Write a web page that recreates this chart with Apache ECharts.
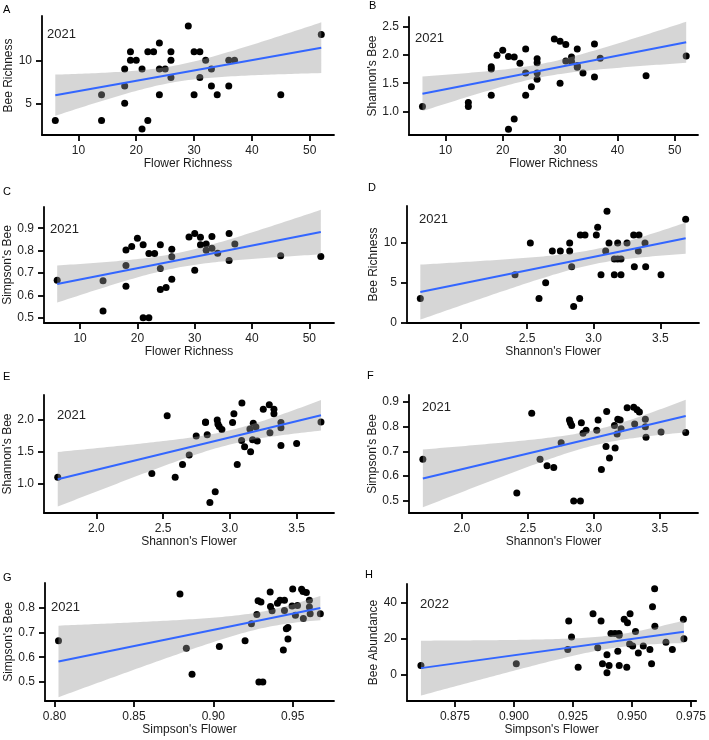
<!DOCTYPE html>
<html>
<head>
<meta charset="utf-8">
<script src="https://cdn.jsdelivr.net/npm/echarts@6/dist/echarts.min.js"></script>
<style>
  html, body { margin: 0; padding: 0; background: #fff; }
  #chart { width: 709px; height: 740px; }
</style>
</head>
<body>
<div id="chart"></div>
<script>
// values, one pair of arrays per panel
const aX = [6,14,14,18,18,18,19,19,20,21,21,22,22,23,24,24,24,25,26,26,26,29,30,30,31,31,32,33,33,34,36,36,37,45,52]
const aY = [3,6,3,9,7,5,11,10,10,9,2,11,3,11,12,9,6,9,11,10,8,14,11,6,11,8,10,9,7,6,10,7,10,6,13]

const bX = [6,14,14,18,18,18,19,20,21,21,22,22,23,24,24,24,25,26,26,26,26,29,30,30,31,31,32,32,33,33,33,34,36,36,37,45,52]
const bY = [1.09,1.16,1.09,1.79,1.75,1.29,1.99,2.08,1.97,0.69,0.87,1.96,1.85,2.10,1.68,1.29,1.44,1.93,1.86,1.68,1.57,2.28,2.24,1.50,2.18,1.89,1.96,1.88,2.10,1.81,1.78,1.68,2.19,1.61,1.94,1.63,1.98]

const cX = [6,14,14,18,18,18,19,20,21,21,22,22,23,24,24,24,25,26,26,26,29,30,30,31,31,32,32,33,33,34,36,36,37,45,52]
const cY = [0.667,0.665,0.53,0.803,0.733,0.64,0.818,0.855,0.826,0.5,0.5,0.787,0.787,0.826,0.72,0.626,0.635,0.806,0.772,0.672,0.861,0.876,0.712,0.86,0.826,0.829,0.802,0.863,0.811,0.788,0.876,0.756,0.829,0.777,0.774]

const dX = [1.70,2.41,2.525,2.59,2.64,2.69,2.75,2.82,2.82,2.835,2.85,2.895,2.90,2.935,3.02,3.03,3.055,3.10,3.09,3.115,3.155,3.155,3.18,3.18,3.205,3.205,3.25,3.30,3.34,3.305,3.335,3.385,3.39,3.505,3.69]
const dY = [3,6,10,3,5,9,9,10,9,7,2,3,11,11,11,12,6,14,9,10,8,6,10,8,8,6,10,11,11,7,9,10,7,6,13]

const eX = [1.71,2.415,2.53,2.59,2.645,2.695,2.7475,2.8175,2.8175,2.83,2.85,2.89,2.905,2.91,2.92,2.94,3.02,3.03,3.055,3.09,3.0875,3.11,3.155,3.15,3.175,3.17,3.195,3.205,3.25,3.295,3.30,3.33,3.33,3.3825,3.3825,3.3825,3.50,3.6825]
const eY = [1.10,1.16,2.07,1.10,1.30,1.45,1.75,1.97,1.96,1.77,0.70,0.87,2.00,1.94,1.90,1.85,1.96,2.10,1.30,2.27,1.68,1.58,1.50,1.86,1.95,1.69,1.89,1.67,2.17,2.24,1.80,2.17,2.10,1.96,1.88,1.60,1.63,1.97]

const fX = [1.705,2.417,2.53,2.593,2.646,2.697,2.753,2.816,2.823,2.833,2.848,2.899,2.906,2.919,2.942,3.023,3.033,3.058,3.098,3.093,3.119,3.157,3.162,3.177,3.182,3.20,3.207,3.253,3.303,3.31,3.328,3.346,3.391,3.391,3.396,3.51,3.697]
const fY = [0.668,0.532,0.854,0.668,0.642,0.635,0.735,0.827,0.816,0.805,0.50,0.50,0.816,0.773,0.786,0.786,0.827,0.627,0.861,0.72,0.673,0.805,0.714,0.77,0.83,0.827,0.792,0.876,0.878,0.811,0.868,0.859,0.83,0.80,0.757,0.778,0.776]

const gX = [0.8025,0.879,0.883,0.8866,0.9038,0.920,0.924,0.9274,0.9282,0.930,0.9287,0.9312,0.9358,0.936,0.937,0.9404,0.942,0.9448,0.9448,0.9441,0.946,0.947,0.947,0.950,0.9496,0.9517,0.953,0.9556,0.9565,0.9586,0.9567,0.9605,0.9605,0.961,0.9674]
const gY = [0.667,0.856,0.636,0.531,0.643,0.667,0.735,0.773,0.828,0.823,0.50,0.50,0.864,0.805,0.788,0.818,0.83,0.83,0.789,0.629,0.715,0.72,0.674,0.876,0.807,0.770,0.809,0.875,0.866,0.862,0.757,0.83,0.803,0.776,0.776]

const hX = [0.8606,0.901,0.9232,0.9228,0.9244,0.9272,0.9335,0.9355,0.9369,0.9375,0.9394,0.9394,0.9403,0.9411,0.9428,0.944,0.9445,0.9446,0.9446,0.9467,0.9478,0.9481,0.9492,0.949,0.9503,0.9515,0.9527,0.9548,0.9576,0.9587,0.9583,0.9596,0.9597,0.9644,0.9671,0.9718,0.972]
const hY = [5,6,30,14,21,4,34,15,30,6,11,1,5,23,23,13,23,22,5,31,4,29,34,17,16,24,12,16,14,38,6,48,27,18,14,31,20]

// tick labels
const richTicks = [10, 20, 30, 40, 50]
const shanFlowerTicks = [2.0, 2.5, 3.0, 3.5]
const simpFlowerTicksG = [0.80, 0.85, 0.90, 0.95]
const simpFlowerTicksH = [0.875, 0.900, 0.925, 0.950, 0.975]
const beeRichTicksA = [5, 10]
const beeRichTicksD = [0, 5, 10]
const shanBeeTicksB = [1.0, 1.5, 2.0, 2.5]
const shanBeeTicksE = [1.0, 1.5, 2.0]
const simpBeeTicks = [0.5, 0.6, 0.7, 0.8, 0.9]
const simpBeeTicksG = [0.5, 0.6, 0.7, 0.8]
const abundTicks = [0, 20, 40]

const FONT = '"Liberation Sans", Arial, sans-serif'

// box = [left, top, right, bottom] of the plot area in px
const panels = [
  { tag: 'A', x: aX, y: aY, box: [42, 16, 334, 135], xr: [3.7, 54.2], yr: [1.31, 15.15], xt: richTicks, yt: beeRichTicksA, xd: 0, yd: 0,
    xName: 'Flower Richness', yName: 'Bee Richness', year: '2021', yearAt: [47, 34], tagAt: [3, 10] },
  { tag: 'B', x: bX, y: bY, box: [409, 17, 698, 135], xr: [3.65, 54.06], yr: [0.589, 2.665], xt: richTicks, yt: shanBeeTicksB, xd: 0, yd: 1,
    xName: 'Flower Richness', yName: "Shannon's Bee", year: '2021', yearAt: [415, 38], tagAt: [369, 6] },
  { tag: 'C', x: cX, y: cY, box: [44, 207, 334, 323], xr: [3.7, 54.3], yr: [0.476, 0.995], xt: richTicks, yt: simpBeeTicks, xd: 0, yd: 1,
    xName: 'Flower Richness', yName: "Simpson's Bee", year: '2021', yearAt: [50, 229], tagAt: [3, 192] },
  { tag: 'D', x: dX, y: dY, box: [407, 206, 699, 323], xr: [1.6, 3.79], yr: [-0.07, 14.66], xt: shanFlowerTicks, yt: beeRichTicksD, xd: 1, yd: 0,
    xName: "Shannon's Flower", yName: 'Bee Richness', year: '2021', yearAt: [419, 219], tagAt: [368, 188] },
  { tag: 'E', x: eX, y: eY, box: [44, 395, 334, 513], xr: [1.607, 3.78], yr: [0.536, 2.395], xt: shanFlowerTicks, yt: shanBeeTicksE, xd: 1, yd: 1,
    xName: "Shannon's Flower", yName: "Shannon's Bee", year: '2021', yearAt: [57, 415], tagAt: [3, 377] },
  { tag: 'F', x: fX, y: fY, box: [409, 395, 698, 513], xr: [1.6, 3.79], yr: [0.451, 0.928], xt: shanFlowerTicks, yt: simpBeeTicks, xd: 1, yd: 1,
    xName: "Shannon's Flower", yName: "Simpson's Bee", year: '2021', yearAt: [422, 407], tagAt: [367, 376] },
  { tag: 'G', x: gX, y: gY, box: [45, 583, 334, 701], xr: [0.794, 0.976], yr: [0.423, 0.9], xt: simpFlowerTicksG, yt: simpBeeTicksG, xd: 2, yd: 1,
    xName: "Simpson's Flower", yName: "Simpson's Bee", year: '2021', yearAt: [51, 607], tagAt: [3, 578] },
  { tag: 'H', x: hX, y: hY, box: [407, 584, 698, 701], xr: [0.8547, 0.9772], yr: [-14.9, 50.7], xt: simpFlowerTicksH, yt: abundTicks, xd: 3, yd: 0,
    xName: "Simpson's Flower", yName: 'Bee Abundance', year: '2022', yearAt: [420, 604], tagAt: [365, 575] }
]

// ordinary least squares with a 95% confidence band, like geom_smooth(method = 'lm')
function lmFit(xs, ys) {
  const n = xs.length
  const xbar = xs.reduce((s, v) => s + v, 0) / n
  const ybar = ys.reduce((s, v) => s + v, 0) / n
  let sxx = 0, sxy = 0
  for (let i = 0; i < n; i++) {
    sxx += (xs[i] - xbar) ** 2
    sxy += (xs[i] - xbar) * (ys[i] - ybar)
  }
  const b = sxy / sxx
  const a = ybar - b * xbar
  let rss = 0
  for (let i = 0; i < n; i++) rss += (ys[i] - a - b * xs[i]) ** 2
  const s = Math.sqrt(rss / (n - 2))
  const df = n - 2, z = 1.959964
  const t = z + (z ** 3 + z) / (4 * df) + (5 * z ** 5 + 16 * z ** 3 + 3 * z) / (96 * df * df)
  const lo = Math.min(...xs), hi = Math.max(...xs)
  const upper = [], lower = []
  for (let k = 0; k <= 80; k++) {
    const x = lo + (hi - lo) * k / 80
    const yh = a + b * x
    const se = s * Math.sqrt(1 / n + (x - xbar) ** 2 / sxx)
    upper.push([x, yh + t * se])
    lower.push([x, yh - t * se])
  }
  return { line: [[lo, a + b * lo], [hi, a + b * hi]], upper, lower, center: [xbar, ybar] }
}

function axis(i, range, ticks, digits, name, gap) {
  return {
    type: 'value', gridIndex: i, min: range[0], max: range[1],
    name: name, nameLocation: 'middle', nameGap: gap,
    nameTextStyle: { fontSize: 12, color: '#1a1a1a', fontFamily: FONT },
    axisLine: { show: true, onZero: false, lineStyle: { color: '#000', width: 1.8 } },
    axisTick: { show: true, length: 6, customValues: ticks, lineStyle: { color: '#000', width: 1.8 } },
    axisLabel: { customValues: ticks, formatter: v => Number(v).toFixed(digits), fontSize: 12, color: '#222', fontFamily: FONT, margin: 10 },
    splitLine: { show: false }
  }
}

const grid = [], xAxis = [], yAxis = [], series = [], graphic = []

panels.forEach((p, i) => {
  grid.push({ left: p.box[0], top: p.box[1], width: p.box[2] - p.box[0], height: p.box[3] - p.box[1] })
  xAxis.push(axis(i, p.xr, p.xt, p.xd, p.xName, 23))
  yAxis.push(axis(i, p.yr, p.yt, p.yd, p.yName, 27))

  const fit = lmFit(p.x, p.y)

  series.push({
    type: 'scatter', xAxisIndex: i, yAxisIndex: i, z: 2, silent: true,
    symbolSize: 7, itemStyle: { color: '#000', opacity: 1 },
    data: p.x.map((v, k) => [v, p.y[k]])
  })
  // grey band goes over the points, as in ggplot
  series.push({
    type: 'custom', xAxisIndex: i, yAxisIndex: i, z: 3, silent: true, clip: false,
    data: [fit.center],
    renderItem: function (params, api) {
      const pts = fit.upper.map(d => api.coord(d))
        .concat(fit.lower.slice().reverse().map(d => api.coord(d)))
      return { type: 'polygon', shape: { points: pts }, style: { fill: 'rgba(153,153,153,0.4)' } }
    }
  })
  series.push({
    type: 'line', xAxisIndex: i, yAxisIndex: i, z: 4, silent: true,
    symbol: 'none', lineStyle: { color: '#3366FF', width: 2 },
    data: fit.line
  })

  graphic.push({ type: 'text', x: p.tagAt[0], y: p.tagAt[1],
    style: { text: p.tag, fontSize: 11, fontFamily: FONT, fill: '#000', verticalAlign: 'middle' } })
  graphic.push({ type: 'text', x: p.yearAt[0], y: p.yearAt[1],
    style: { text: p.year, fontSize: 13, fontFamily: FONT, fill: '#222', verticalAlign: 'middle' } })
})

const chart = echarts.init(document.getElementById('chart'), null, { renderer: 'canvas' })
chart.setOption({
  animation: false,
  backgroundColor: '#fff',
  grid, xAxis, yAxis, series, graphic
})
</script>
</body>
</html>
